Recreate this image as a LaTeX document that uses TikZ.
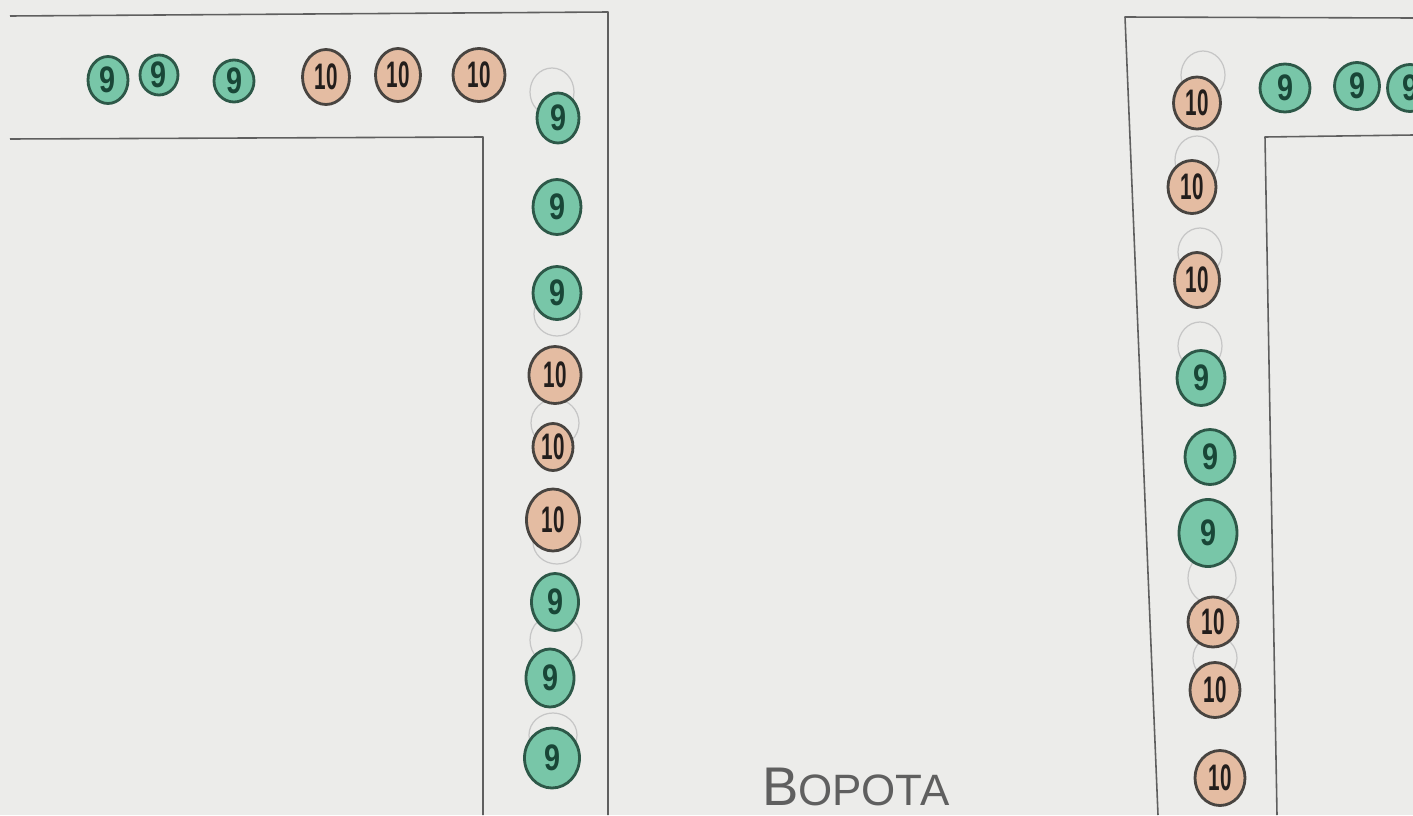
\documentclass[tikz,border=0pt]{standalone}
\usepackage{fontspec}
\setmainfont{Liberation Sans}
\usepackage{graphicx}
\usepackage{tikz}
\usetikzlibrary{shapes.geometric}
\definecolor{paper}{RGB}{236,236,234}
\definecolor{wallc}{RGB}{95,95,95}
\definecolor{greenfill}{RGB}{120,198,168}
\definecolor{greenedge}{RGB}{45,88,72}
\definecolor{greennum}{RGB}{25,70,55}
\definecolor{orangefill}{RGB}{228,188,162}
\definecolor{orangeedge}{RGB}{72,68,64}
\definecolor{orangenum}{RGB}{35,30,28}
\tikzset{wall/.style={wallc,line width=0.9pt},ghost/.style={gray!45,line width=0.7pt},
  coin/.style={ellipse,draw,line width=1.6pt,inner sep=0pt,font=\fontsize{21}{21}\selectfont\bfseries},
  nine/.style 2 args={coin,fill=greenfill,draw=greenedge,text=greennum,minimum width=#1*0.02cm,minimum height=#2*0.02cm},
  ten/.style 2 args={coin,fill=orangefill,draw=orangeedge,text=orangenum,minimum width=#1*0.02cm,minimum height=#2*0.02cm}}
\newcommand{\ninetxt}{\scalebox{0.78}[1]{9}}
\newcommand{\tentxt}{\scalebox{0.56}[1]{10}}

\begin{document}
\begin{tikzpicture}[x=0.02cm,y=-0.02cm,line join=round]
\clip (0,0) rectangle (1413,815);
\fill[paper] (0,0) rectangle (1413,815);
% --- walls: left corner and right corner
\draw[wall] (10,16) -- (608,12) -- (608,815); \draw[wall] (10,139) -- (483,137) -- (483,815);
\draw[wall] (1413,18) -- (1125,17) -- (1158,815); \draw[wall] (1413,135) -- (1265,137) -- (1277,815);
% --- erased pencil circles
\draw[ghost] (552,92) ellipse (22 and 24); \draw[ghost] (557,314) ellipse (23 and 22);
\draw[ghost] (555,423) ellipse (24 and 24); \draw[ghost] (557,542) ellipse (24 and 22);
\draw[ghost] (556,640) ellipse (26 and 26); \draw[ghost] (553,735) ellipse (24 and 22);
\draw[ghost] (1203,75) ellipse (22 and 24); \draw[ghost] (1197,160) ellipse (22 and 24);
\draw[ghost] (1200,252) ellipse (22 and 24); \draw[ghost] (1200,346) ellipse (22 and 24);
\draw[ghost] (1212,578) ellipse (24 and 26); \draw[ghost] (1215,658) ellipse (22 and 22);
% --- top row, left
\node[nine={40}{47}] (t1) at (108,80) {\ninetxt}; \node[nine={38}{40}] (t2) at (159,75) {\ninetxt};
\node[nine={40}{42}] (t3) at (234,81) {\ninetxt};
\node[ten={47}{55}] (t4) at (326,77) {\tentxt}; \node[ten={45}{53}] (t5) at (398,75) {\tentxt};
\node[ten={52}{53}] (t6) at (479,75) {\tentxt};
% --- column, left
\node[nine={42}{50}] (l1) at (558,118) {\ninetxt}; \node[nine={48}{55}] (l2) at (557,207) {\ninetxt};
\node[nine={48}{53}] (l3) at (557,293) {\ninetxt};
\node[ten={52}{57}] (l4) at (555,375) {\tentxt}; \node[ten={40}{47}] (l5) at (553,447) {\tentxt};
\node[ten={53}{62}] (l6) at (553,520) {\tentxt};
\node[nine={47}{57}] (l7) at (555,602) {\ninetxt}; \node[nine={48}{58}] (l8) at (550,678) {\ninetxt};
\node[nine={55}{60}] (l9) at (552,758) {\ninetxt};
% --- column, right
\node[ten={47}{52}] (r1) at (1197,103) {\tentxt}; \node[ten={48}{53}] (r2) at (1192,187) {\tentxt};
\node[ten={45}{55}] (r3) at (1197,280) {\tentxt};
\node[nine={48}{55}] (r4) at (1201,378) {\ninetxt}; \node[nine={50}{55}] (r5) at (1210,457) {\ninetxt};
\node[nine={58}{67}] (r6) at (1208,533) {\ninetxt};
\node[ten={50}{50}] (r7) at (1213,622) {\tentxt}; \node[ten={50}{55}] (r8) at (1215,690) {\tentxt};
\node[ten={50}{55}] (r9) at (1220,778) {\tentxt};
% --- top row, right
\node[nine={50}{48}] (u1) at (1285,88) {\ninetxt}; \node[nine={45}{47}] (u2) at (1357,86) {\ninetxt};
\node[nine={45}{47}] (u3) at (1410,88) {\ninetxt};
% --- gate
\node[text=wallc,font=\fontsize{25}{25}\selectfont] (gate) at (856,787) {{\fontsize{31}{31}\selectfont В}ОРОТА};
\end{tikzpicture}
\end{document}
